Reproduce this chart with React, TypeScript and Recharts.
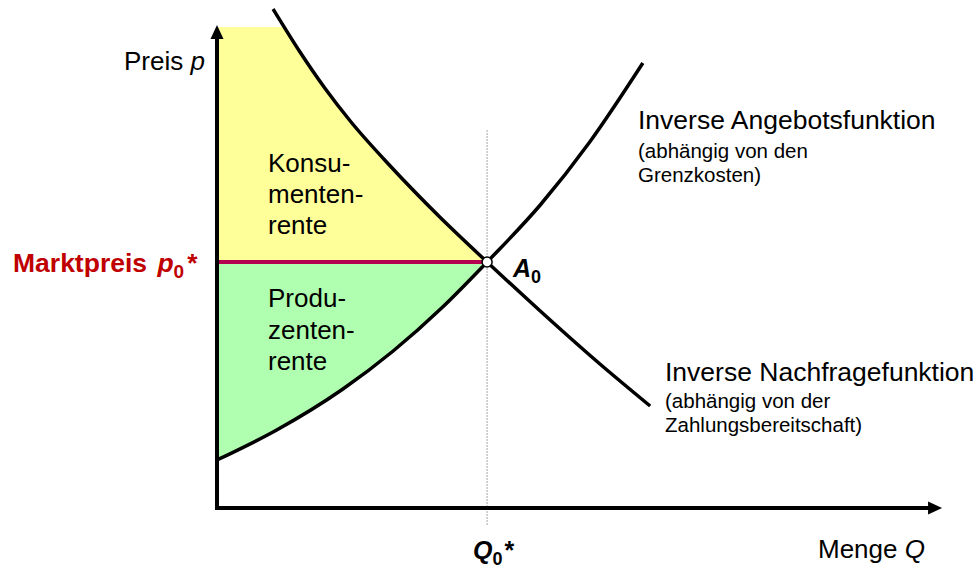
import React from "react";
import {
  ComposedChart,
  Line,
  Area,
  XAxis,
  YAxis,
  ReferenceLine,
  ReferenceDot,
} from "recharts";

// ---- values (Q: quantity 0..100, p: price 0..100) ----
const demandQ = [7.7, 11.4, 14.8, 18.3, 23.8, 30.6, 37.1, 44.4, 52.6, 59.5];
const demandP = [99.8, 91.2, 84.0, 77.4, 68.4, 58.2, 49.2, 39.4, 28.8, 20.4];

const supplyQ = [0, 8.2, 17.3, 24.2, 31.0, 37.1, 44.4, 51.2, 58.5];
const supplyP = [9.6, 15.6, 23.8, 31.4, 40.2, 49.2, 60.6, 73.2, 89.0];

const equilibriumQ = 37.1; // Q0*
const marketPrice = 49.2; // p0*
const consumerTopP = 96.2; // upper edge of the yellow area
const consumerTopQ = 9.2; // where that edge meets the demand curve
const axisTopP = 96.6; // tip of the price-axis arrow
const axisRightQ = 99.6; // tip of the quantity-axis arrow
const guideRange = [-3.4, 75.6]; // extent of the dotted Q0* guide

const demandData = demandQ.map((q, i) => ({ q, p: demandP[i] }));
const supplyData = supplyQ.map((q, i) => ({ q, p: supplyP[i] }));
const priceLineData = [
  { q: 0, p: marketPrice },
  { q: equilibriumQ, p: marketPrice },
];
const consumerData = [
  { q: 0, range: [marketPrice, consumerTopP] },
  { q: consumerTopQ, range: [marketPrice, consumerTopP] },
  ...demandData
    .filter((d) => d.q > consumerTopQ && d.q <= equilibriumQ)
    .map((d) => ({ q: d.q, range: [marketPrice, d.p] })),
];
const producerData = supplyData
  .filter((d) => d.q <= equilibriumQ)
  .map((d) => ({ q: d.q, range: [d.p, marketPrice] }));

const FONT = '"Liberation Sans", Arial, sans-serif';

const ArrowUp = (props: any) => {
  const { cx, cy } = props;
  return (
    <polygon
      points={`${cx},${cy} ${cx - 6.5},${cy + 14} ${cx + 6.5},${cy + 14}`}
      fill="#000"
    />
  );
};
const ArrowRight = (props: any) => {
  const { cx, cy } = props;
  return (
    <polygon
      points={`${cx},${cy} ${cx - 14},${cy - 6.5} ${cx - 14},${cy + 6.5}`}
      fill="#000"
    />
  );
};

export default function App() {
  return (
    <div style={{ position: "absolute", left: 0, top: 0, width: 979, height: 569, background: "#fff" }}>
      <ComposedChart
        width={979}
        height={569}
        margin={{ top: 8, right: 34, bottom: 61, left: 217 }}
      >
        <XAxis type="number" dataKey="q" domain={[0, 100]} hide allowDataOverflow />
        <YAxis type="number" domain={[0, 100]} hide allowDataOverflow />

        <Area
          data={consumerData}
          dataKey="range"
          type="linear"
          fill="#ffff99"
          fillOpacity={1}
          stroke="none"
          isAnimationActive={false}
          activeDot={false}
        />
        <Area
          data={producerData}
          dataKey="range"
          type="monotone"
          fill="#b0ffb0"
          fillOpacity={1}
          stroke="none"
          isAnimationActive={false}
          activeDot={false}
        />

        <ReferenceLine
          segment={[
            { x: equilibriumQ, y: guideRange[0] },
            { x: equilibriumQ, y: guideRange[1] },
          ]}
          stroke="#a8a8a8"
          strokeWidth={1}
          strokeDasharray="2 1"
          ifOverflow="visible"
        />

        <Line
          data={priceLineData}
          dataKey="p"
          type="linear"
          stroke="#b4004e"
          strokeWidth={4}
          dot={false}
          activeDot={false}
          isAnimationActive={false}
        />
        <Line
          data={demandData}
          dataKey="p"
          type="monotone"
          stroke="#000"
          strokeWidth={3.5}
          dot={false}
          activeDot={false}
          isAnimationActive={false}
        />
        <Line
          data={supplyData}
          dataKey="p"
          type="monotone"
          stroke="#000"
          strokeWidth={3.5}
          dot={false}
          activeDot={false}
          isAnimationActive={false}
        />

        <ReferenceLine
          segment={[
            { x: 0, y: -0.4 },
            { x: 0, y: axisTopP - 2.4 },
          ]}
          stroke="#000"
          strokeWidth={4}
          ifOverflow="visible"
        />
        <ReferenceLine
          segment={[
            { x: -0.27, y: 0 },
            { x: axisRightQ - 1.6, y: 0 },
          ]}
          stroke="#000"
          strokeWidth={4}
          ifOverflow="visible"
        />
        <ReferenceDot x={0} y={axisTopP} ifOverflow="visible" shape={ArrowUp} />
        <ReferenceDot x={axisRightQ} y={0} ifOverflow="visible" shape={ArrowRight} />

        <ReferenceDot
          x={equilibriumQ}
          y={marketPrice}
          r={5}
          fill="#fff"
          stroke="#000"
          strokeWidth={1.5}
          ifOverflow="visible"
        />
      </ComposedChart>

      <svg
        width={979}
        height={569}
        style={{ position: "absolute", left: 0, top: 0, pointerEvents: "none" }}
        fontFamily={FONT}
      >
        <text x={124} y={70} fontSize={26} fill="#000">
          Preis <tspan fontStyle="italic">p</tspan>
        </text>

        <text x={13} y={272} fontSize={26.5} fontWeight="bold" fill="#c00000">
          Marktpreis <tspan fontStyle="italic" dx={3}>p</tspan>
          <tspan fontSize={19} dy={6}>0</tspan>
          <tspan dy={-6} dx={3}>*</tspan>
        </text>

        <text x={513} y={277} fontSize={25} fontWeight="bold" fontStyle="italic" fill="#000">
          A<tspan fontSize={18} fontStyle="normal" dy={6}>0</tspan>
        </text>

        <text x={473} y={559} fontSize={25} fontWeight="bold" fill="#000">
          <tspan fontStyle="italic">Q</tspan>
          <tspan fontSize={18} dy={6}>0</tspan>
          <tspan dy={-6} dx={2}>*</tspan>
        </text>

        <text x={818} y={558} fontSize={26} fill="#000">
          Menge <tspan fontStyle="italic">Q</tspan>
        </text>

        <text x={638} y={129} fontSize={26.5} fill="#000">Inverse Angebotsfunktion</text>
        <text x={638} y={158} fontSize={20.5} fill="#000">(abhängig von den</text>
        <text x={638} y={182} fontSize={20.5} fill="#000">Grenzkosten)</text>

        <text x={665} y={381} fontSize={26.5} fill="#000">Inverse Nachfragefunktion</text>
        <text x={665} y={408} fontSize={20.5} fill="#000">(abhängig von der</text>
        <text x={665} y={432} fontSize={20.5} fill="#000">Zahlungsbereitschaft)</text>

        <text x={268} y={172} fontSize={26} fill="#000">Konsu-</text>
        <text x={268} y={203} fontSize={26} fill="#000">menten-</text>
        <text x={268} y={234} fontSize={26} fill="#000">rente</text>

        <text x={268} y={307} fontSize={26} fill="#000">Produ-</text>
        <text x={268} y={339} fontSize={26} fill="#000">zenten-</text>
        <text x={268} y={370} fontSize={26} fill="#000">rente</text>
      </svg>
    </div>
  );
}
